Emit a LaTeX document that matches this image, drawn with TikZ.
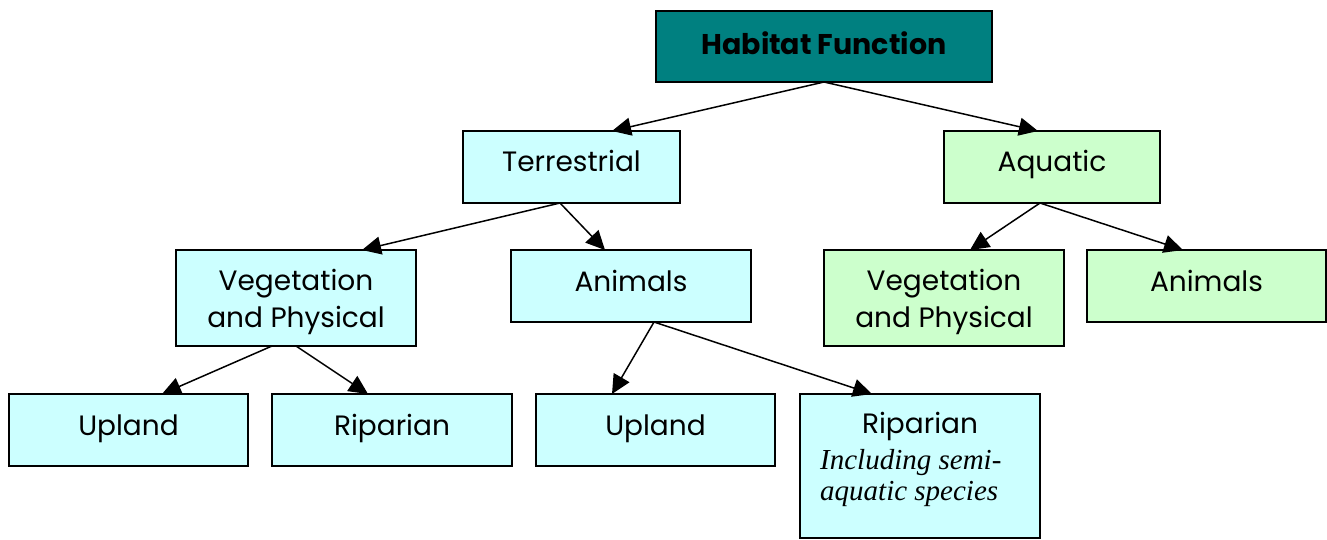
\documentclass[tikz,border=0pt]{standalone}
\usepackage{fontspec}
\setmainfont{Poppins}
\newfontfamily\notefont{Liberation Serif}
\usetikzlibrary{arrows.meta}
\definecolor{teal}{HTML}{008080}
\definecolor{paleCyan}{HTML}{CCFFFF}
\definecolor{paleGreen}{HTML}{CCFFCC}
\newcommand\boxfont{\fontsize{28}{37}\selectfont}
\tikzset{
  box/.style={draw=black, line width=1.6pt, anchor=north west, inner sep=0pt, outer sep=0pt},
  land/.style={box, fill=paleCyan},
  water/.style={box, fill=paleGreen},
  label/.style={inner sep=0pt, font=\boxfont, align=center, anchor=base},
  link/.style={line width=1.5pt, -{Triangle[length=19pt,width=18pt]}}
}
\begin{document}
\begin{tikzpicture}[x=1pt,y=-1pt]
\useasboundingbox (0,0) rectangle (1327,539);
% boxes, positioned by their top-left corners, with their texts on baselines
% (a multi-line text sits on the baseline of its last line)
\node[box, fill=teal, minimum width=336pt, minimum height=71pt] (hab) at (656,11) {};
\node[label, font=\fontsize{28.5}{37}\selectfont\bfseries] (habt) at (824,54) {Habitat Function};

\node[land, minimum width=217pt, minimum height=72pt] (ter) at (463,131) {};
\node[label] (tert) at (571.5,171) {Terrestrial};
\node[water, minimum width=216pt, minimum height=72pt] (aqu) at (944,131) {};
\node[label] (aqut) at (1052,171) {Aquatic};

\node[land, minimum width=240pt, minimum height=96pt] (tveg) at (176,250) {};
\node[label] (tvegt) at (296,327) {Vegetation\\and Physical};
\node[land, minimum width=240pt, minimum height=72pt] (tani) at (511,250) {};
\node[label] (tanit) at (631,291) {Animals};
\node[water, minimum width=240pt, minimum height=96pt] (aveg) at (824,250) {};
\node[label] (avegt) at (944,327) {Vegetation\\and Physical};
\node[water, minimum width=239pt, minimum height=72pt] (aani) at (1087,250) {};
\node[label] (aanit) at (1206.5,291) {Animals};

\node[land, minimum width=239pt, minimum height=72pt] (up1) at (9,394) {};
\node[label] (up1t) at (128.5,435) {Upland};
\node[land, minimum width=240pt, minimum height=72pt] (rip1) at (272,394) {};
\node[label] (rip1t) at (392,435) {Riparian};
\node[land, minimum width=239pt, minimum height=72pt] (up2) at (536,394) {};
\node[label] (up2t) at (655.5,435) {Upland};
\node[land, minimum width=240pt, minimum height=144pt] (rip2) at (800,394) {};
\node[label] (rip2t) at (920,433) {Riparian};
\node[anchor=base west, align=left, inner sep=0pt, font=\notefont\itshape\fontsize{29}{30.5}\selectfont]
  (rip2n) at (820,500) {Including semi-\\aquatic species};

% connectors
\draw[link] ([xshift=168pt]hab.south west) -- ([xshift=149pt]ter.north west);
\draw[link] ([xshift=168pt]hab.south west) -- ([xshift=94pt]aqu.north west);
\draw[link] ([xshift=97pt]ter.south west) -- ([xshift=186pt]tveg.north west);
\draw[link] ([xshift=97pt]ter.south west) -- ([xshift=94pt]tani.north west);
\draw[link] ([xshift=96pt]aqu.south west) -- ([xshift=146pt]aveg.north west);
\draw[link] ([xshift=96pt]aqu.south west) -- ([xshift=96pt]aani.north west);
\draw[link] ([xshift=96pt]tveg.south west) -- ([xshift=153pt]up1.north west);
\draw[link] ([xshift=120pt]tveg.south west) -- ([xshift=96pt]rip1.north west);
\draw[link] ([xshift=143pt]tani.south west) -- ([xshift=76pt]up2.north west);
\draw[link] ([xshift=143pt]tani.south west) -- ([xshift=72pt]rip2.north west);
\end{tikzpicture}
\end{document}
